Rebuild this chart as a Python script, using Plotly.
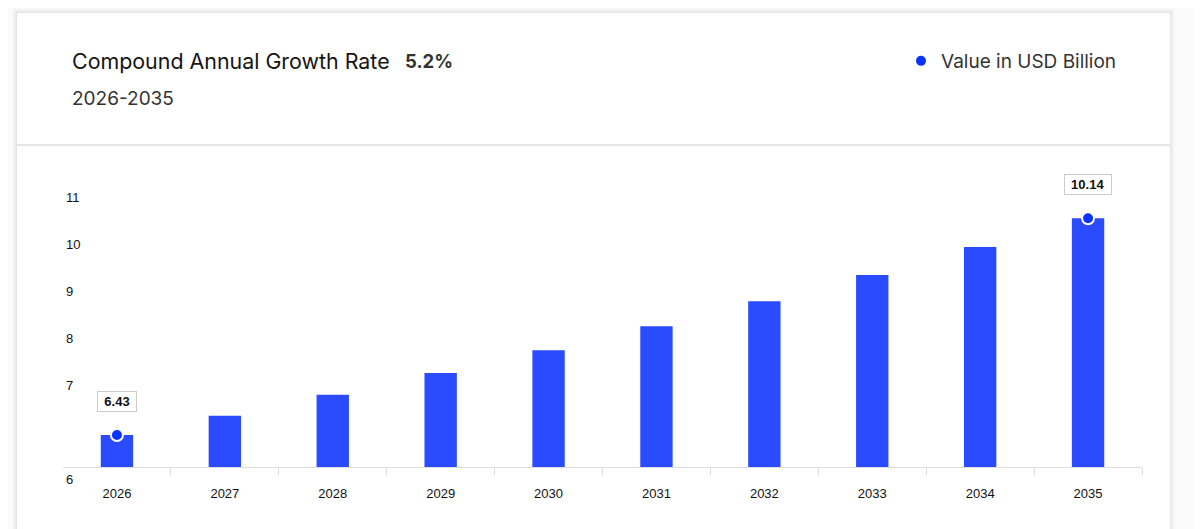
import plotly.graph_objects as go

# ---------------- data ----------------
YEARS = ["2026", "2027", "2028", "2029", "2030", "2031", "2032", "2033", "2034", "2035"]
VALUES = [6.43, 6.76, 7.12, 7.49, 7.88, 8.29, 8.72, 9.17, 9.65, 10.14]
Y_TICK_LABELS = ["6", "7", "8", "9", "10", "11"]
HIGHLIGHT_YEARS = ["2026", "2035"]
TITLE = "Compound Annual Growth Rate"
CAGR_TEXT = "5.2%"
PERIOD = "2026-2035"
SERIES_NAME = "Value in USD Billion"

# ---------------- geometry / style ----------------
OFF = 8  # page body margin
W, H = 1201 - OFF, 529 - OFF


def px(x):
    return (x - OFF) / W


def py(y):
    return (H - (y - OFF)) / H


PLOT_L, PLOT_R = 63, 1142
PLOT_T, PLOT_B = 180, 495
AXIS_Y = 467
Y_RANGE = [5.403, 10.796]
BASELINE = 5.882
TICK_POS = [5.677, 7.286, 8.091, 8.896, 9.701, 10.505]

BAR_COLOR = "#2a4bff"
DOT_COLOR = "#0a33ff"
TEXT_FONT = "Inter, 'Noto Sans', sans-serif"
AXIS_FONT = "'Liberation Sans', Arial, sans-serif"

hl_idx = [YEARS.index(y) for y in HIGHLIGHT_YEARS]
hl_vals = [VALUES[i] for i in hl_idx]

fig = go.Figure()
fig.add_trace(go.Bar(
    x=YEARS,
    y=[v - BASELINE for v in VALUES],
    base=BASELINE,
    width=0.3,
    marker=dict(color=BAR_COLOR, line=dict(width=0)),
    showlegend=False,
    hoverinfo="skip",
))
fig.add_trace(go.Scatter(
    x=HIGHLIGHT_YEARS,
    y=hl_vals,
    mode="markers",
    name=SERIES_NAME,
    marker=dict(color=DOT_COLOR, size=12, line=dict(color="white", width=2)),
    showlegend=True,
    cliponaxis=False,
))

for i, v in zip(hl_idx, hl_vals):
    txt = f"{v:.2f}"
    fig.add_annotation(
        x=i, y=v, xref="x", yref="y",
        text=f"<b>{txt}</b>", showarrow=False,
        yshift=34, width=len(txt) * 7.5 + 6, height=17,
        bgcolor="white", bordercolor="#cccccc", borderwidth=1, borderpad=1,
        font=dict(family=AXIS_FONT, size=13, color="#111111"),
    )

# header texts
fig.add_annotation(x=px(70), y=py(61), xref="paper", yref="paper", xanchor="left", yanchor="middle",
                   text=TITLE, showarrow=False, font=dict(family=TEXT_FONT, size=21.4, color="#141414"))
fig.add_annotation(x=px(403), y=py(61), xref="paper", yref="paper", xanchor="left", yanchor="middle",
                   text=f"<b>{CAGR_TEXT}</b>", showarrow=False, font=dict(family=TEXT_FONT, size=18.5, color="#333333"))
fig.add_annotation(x=px(70), y=py(99), xref="paper", yref="paper", xanchor="left", yanchor="middle",
                   text=PERIOD, showarrow=False, font=dict(family=TEXT_FONT, size=19, color="#333333"))

shapes = []
# card shadow
for i, a in enumerate([0.010, 0.012, 0.015, 0.02, 0.03]):
    o = 5 - i
    shapes.append(dict(type="rect", xref="paper", yref="paper", layer="below",
                       x0=px(17 - o), x1=px(1170 + o), y0=py(540), y1=py(13 - o),
                       fillcolor=f"rgba(0,0,0,{a})", line=dict(width=0)))
shapes.append(dict(type="rect", xref="paper", yref="paper", layer="below",
                   x0=px(17), x1=px(1170), y0=py(540), y1=py(13),
                   fillcolor="white", line=dict(width=0)))
shapes.append(dict(type="line", xref="paper", yref="paper", layer="below",
                   x0=px(17), x1=px(1170), y0=py(145), y1=py(145),
                   line=dict(color="#e6e6e6", width=2)))

fig.update_layout(
    width=W, height=H,
    margin=dict(l=0, r=0, t=0, b=0),
    paper_bgcolor="#fbfbfb",
    plot_bgcolor="rgba(0,0,0,0)",
    shapes=shapes,
    legend=dict(x=px(901), y=py(61), xanchor="left", yanchor="middle",
                font=dict(family=TEXT_FONT, size=19, color="#333333"),
                bgcolor="rgba(0,0,0,0)", itemsizing="trace"),
    xaxis=dict(
        domain=[px(PLOT_L), px(PLOT_R)],
        anchor="free", position=py(AXIS_Y),
        type="category",
        range=[-0.5, len(YEARS) - 0.5],
        showline=True, linecolor="#dddddd", linewidth=1,
        ticks="outside", ticklen=7, tickcolor="#dddddd", tickson="boundaries",
        ticklabelstandoff=14,
        tickfont=dict(family=AXIS_FONT, size=13, color="#111111"),
        tickangle=0,
        showgrid=False, zeroline=False, fixedrange=True,
    ),
    yaxis=dict(
        domain=[py(PLOT_B), py(PLOT_T)],
        range=Y_RANGE,
        tickvals=TICK_POS, ticktext=Y_TICK_LABELS,
        ticklabelposition="inside",
        ticks="", showline=False, showgrid=False, zeroline=False,
        tickfont=dict(family=AXIS_FONT, size=13, color="#111111"),
        fixedrange=True,
    ),
)

fig.write_html("out.html")
